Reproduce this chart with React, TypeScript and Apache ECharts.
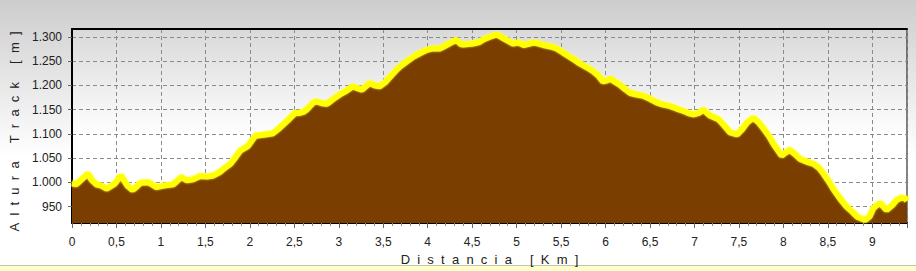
import React, { useEffect, useRef } from "react";
import * as echarts from "echarts";

const distanceKm = [
  0, 0.05, 0.09, 0.18, 0.22, 0.28, 0.33, 0.39, 0.48, 0.55, 0.62, 0.68, 0.72, 0.77, 0.86, 0.95,
  1.03, 1.14, 1.23, 1.29, 1.36, 1.44, 1.52, 1.59, 1.66, 1.72, 1.78, 1.84, 1.89, 1.98,
  2.06, 2.19, 2.26, 2.32, 2.38, 2.45, 2.51, 2.56, 2.6, 2.64, 2.71, 2.75, 2.81, 2.87, 2.94,
  3.01, 3.08, 3.16, 3.21, 3.26, 3.35, 3.4, 3.46, 3.52, 3.58, 3.64, 3.69, 3.77, 3.84, 3.91, 3.99,
  4.06, 4.14, 4.21, 4.28, 4.33, 4.37, 4.4, 4.51, 4.58, 4.63, 4.7, 4.78, 4.85, 4.9, 4.96,
  5.02, 5.08, 5.19, 5.25, 5.3, 5.38, 5.45, 5.5, 5.56, 5.64, 5.71, 5.79, 5.86, 5.92, 5.97,
  6.02, 6.05, 6.1, 6.16, 6.22, 6.28, 6.35, 6.43, 6.5, 6.58, 6.65, 6.73, 6.8, 6.88, 6.94, 6.99,
  7.05, 7.1, 7.14, 7.18, 7.27, 7.33, 7.4, 7.48, 7.53, 7.59, 7.66, 7.72, 7.78, 7.84, 7.89, 7.98,
  8.03, 8.07, 8.13, 8.19, 8.27, 8.34, 8.4, 8.45, 8.51, 8.57, 8.64, 8.71, 8.77, 8.83, 8.92, 8.97,
  9.01, 9.05, 9.09, 9.16, 9.22, 9.27, 9.32, 9.37, 9.39,
];

const elevationM = [
  998, 996, 1003, 1018, 1005, 995, 993, 987, 997, 1014, 994, 984, 990, 999, 1000, 990,
  993, 996, 1011, 1004, 1006, 1013, 1012, 1014, 1021, 1030, 1038, 1052, 1065, 1075,
  1096, 1099, 1101, 1110, 1120, 1132, 1143, 1143, 1145, 1150, 1164, 1167, 1163, 1162, 1172,
  1181, 1188, 1198, 1194, 1191, 1205, 1200, 1198, 1206, 1218, 1230, 1239, 1250, 1259, 1266, 1273,
  1276, 1276, 1283, 1290, 1293, 1285, 1284, 1286, 1289, 1295, 1300, 1305, 1297, 1292, 1286,
  1288, 1283, 1288, 1286, 1283, 1280, 1276, 1270, 1263, 1254, 1245, 1237, 1229, 1220, 1208,
  1210, 1214, 1208, 1201, 1192, 1184, 1181, 1178, 1172, 1164, 1160, 1157, 1152, 1147, 1142, 1140,
  1143, 1150, 1143, 1137, 1130, 1118, 1103, 1099, 1108, 1123, 1133, 1124, 1110, 1095, 1079, 1055,
  1062, 1067, 1058, 1048, 1042, 1038, 1030, 1018, 1002, 984, 966, 950, 940, 929, 922, 930,
  946, 953, 957, 943, 952, 963, 968, 967, 962,
];

const xMin = 0;
const xMax = 9.39;
const xInterval = 0.5;
const yMin = 916;
const yMax = 1316;

const sp = "\u00a0\u00a0";
const spaced = (s: string) => s.split("").map((c) => (c === " " ? "\u00a0" : c)).join(sp);
const yTitle = spaced("Altura Track [m]") + "\u00a0\u00a0\u00a0";
const xTitle = spaced("Distancia [Km]");

const fmtY = (v: number) => {
  if (v >= 1000) {
    const th = Math.floor(v / 1000);
    const rest = String(Math.round(v % 1000)).padStart(3, "0");
    return th + "." + rest;
  }
  return String(v);
};
const fmtX = (v: number) => String(Math.round(v * 10) / 10).replace(".", ",");

export default function App() {
  const ref = useRef<HTMLDivElement>(null);
  useEffect(() => {
    if (!ref.current) return;
    const chart = echarts.init(ref.current, undefined, { renderer: "svg" });
    const font = "'Liberation Sans', Arial, sans-serif";
    const points = distanceKm.map((d, i) => [d, elevationM[i]]);
    chart.setOption({
      animation: false,
      backgroundColor: {
        type: "linear", x: 0, y: 0, x2: 0, y2: 1,
        colorStops: [
          { offset: 0, color: "#cdcdcd" },
          { offset: 0.58, color: "#ffffff" },
          { offset: 1, color: "#ffffff" },
        ],
      },
      grid: {
        left: 72, top: 29, width: 835, height: 194,
        show: true,
        borderColor: "#000",
        borderWidth: 1,
        backgroundColor: {
          type: "linear", x: 0, y: 0, x2: 0, y2: 1,
          colorStops: [
            { offset: 0, color: "#d9d9d9" },
            { offset: 0.55, color: "#ffffff" },
            { offset: 1, color: "#ffffff" },
          ],
        },
      },
      graphic: [
        { type: "rect", left: 0, bottom: 0, shape: { width: 916, height: 5 }, style: { fill: "#ffffcc" }, z: 0 },
        { type: "rect", left: 0, bottom: 5, shape: { width: 916, height: 1 }, style: { fill: "#c9c3a4" }, z: 0 },
      ],
      xAxis: [
        {
          type: "value",
          min: xMin,
          max: xMax,
          interval: xInterval,
          name: xTitle,
          nameLocation: "middle",
          nameGap: 28,
          nameTextStyle: { fontFamily: font, fontSize: 13, color: "#222" },
          axisLine: { show: true, lineStyle: { color: "#000", width: 2 } },
          axisTick: { show: true, length: 5, lineStyle: { color: "#666" } },
          minorTick: { show: true, splitNumber: 5, length: 3, lineStyle: { color: "#888" } },
          axisLabel: {
            formatter: fmtX,
            fontFamily: font, fontSize: 12, color: "#222", margin: 13,
            showMaxLabel: false,
          },
          splitLine: { show: true, lineStyle: { color: "#8a8a8a", type: [4, 3], width: 1 } },
        },
        {
          type: "value",
          position: "top",
          min: xMin,
          max: xMax,
          axisLine: { show: true, lineStyle: { color: "#000", width: 2 } },
          axisTick: { show: false },
          axisLabel: { show: false },
          splitLine: { show: false },
        },
      ],
      yAxis: {
        type: "value",
        min: yMin,
        max: yMax,
        splitNumber: 8,
        name: yTitle,
        nameLocation: "middle",
        nameGap: 48,
        nameRotate: 90,
        nameTextStyle: { fontFamily: font, fontSize: 13, color: "#222" },
        axisLine: { show: true, lineStyle: { color: "#000", width: 2 } },
        axisTick: { show: true, length: 4, lineStyle: { color: "#666" } },
        axisLabel: {
          formatter: fmtY,
          fontFamily: font, fontSize: 12, color: "#222", margin: 10,
          showMinLabel: false, showMaxLabel: false,
        },
        splitLine: { show: true, lineStyle: { color: "#8a8a8a", type: [4, 3], width: 1 } },
      },
      series: [
        {
          type: "line",
          data: points,
          xAxisIndex: 0,
          showSymbol: false,
          symbol: "none",
          smooth: false,
          lineStyle: { color: "#ffff00", width: 6, shadowColor: "rgba(255,255,80,0.8)", shadowBlur: 2 },
          areaStyle: { color: "#7a3e00", opacity: 1, origin: "start" },
          z: 3,
        },
      ],
    });
    return () => chart.dispose();
  }, []);
  return (
    <div
      ref={ref}
      style={{ position: "fixed", left: 0, top: 0, width: 916, height: 271 }}
    />
  );
}
